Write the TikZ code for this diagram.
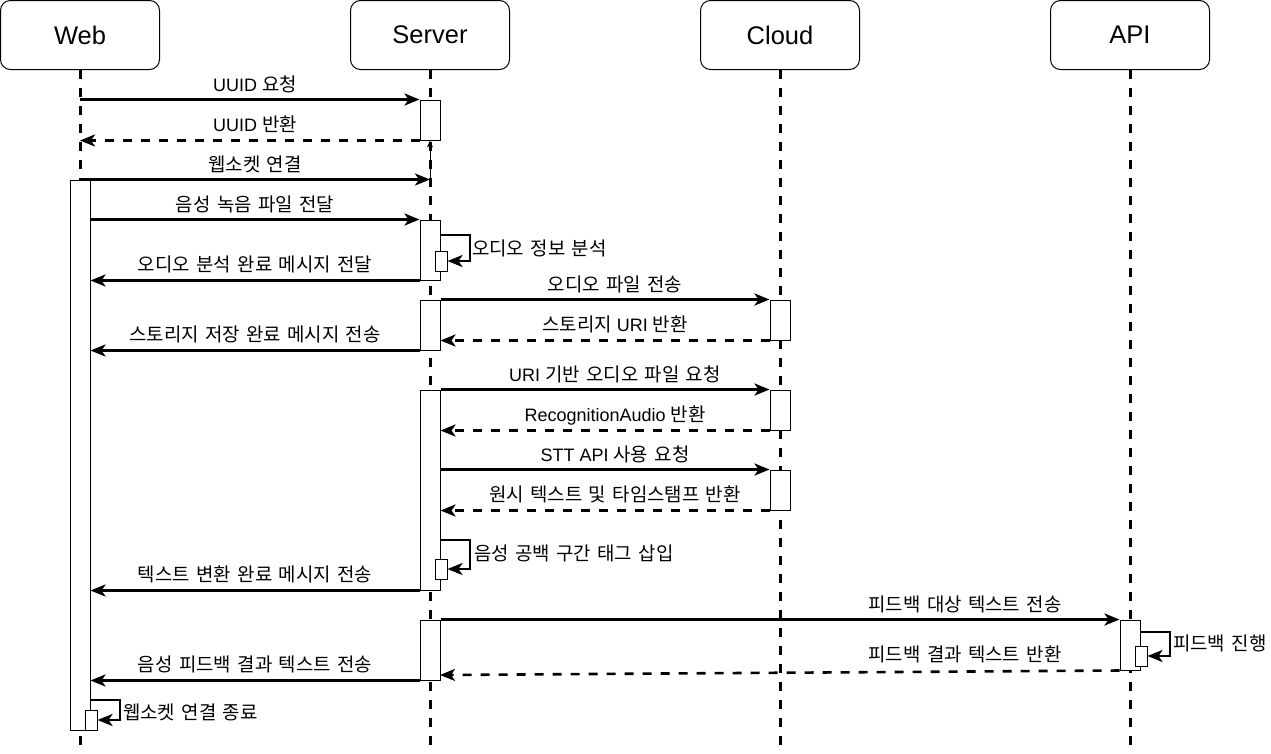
\documentclass[tikz,border=0pt]{standalone}
\usepackage{fontspec}
\setmainfont{Liberation Sans}
\newfontfamily\kr[Scale=1.05,WordSpace=1.5]{Noto Sans CJK KR}
\usetikzlibrary{arrows.meta}
\begin{document}
\begin{tikzpicture}[x=1pt,y=-1pt,
  actor/.style={draw,line width=1pt,rounded corners=10pt,minimum width=159pt,minimum height=69pt,inner sep=0pt,font=\fontsize{25.5pt}{30pt}\selectfont},
  life/.style={line width=3pt,dash pattern=on 8.5pt off 9.5pt},
  act/.style={draw,fill=white,line width=1pt,minimum width=20pt,inner sep=0pt},
  nact/.style={draw,fill=white,line width=1pt,minimum width=12pt,minimum height=20pt,inner sep=0pt},
  msg/.style={line width=2.6pt,-{Stealth[length=15pt,width=12pt,inset=4pt]}},
  ret/.style={msg,dash pattern=on 9pt off 9pt},
  lbl/.style={anchor=base,inner sep=0pt,font=\fontsize{18pt}{22pt}\selectfont},
  llbl/.style={anchor=base west,inner sep=0pt,font=\fontsize{18pt}{22pt}\selectfont}]
\useasboundingbox (0,0) rectangle (1271,753);
\fill[white] (0,0) rectangle (1271,753);
% actors
\node[actor] (web) at (80,35) {Web};
\node[actor] (srv) at (430,35) {Server};
\node[actor] (cld) at (780,35) {Cloud};
\node[actor] (api) at (1130,35) {API};
\coordinate (webE) at (80,753);
\coordinate (srvE) at (430,753);
\coordinate (cldE) at (780,753);
\coordinate (apiE) at (1130,753);
\draw[life] (web.south) -- (webE);
\draw[life] (srv.south) -- (srvE);
\draw[life] (cld.south) -- (cldE);
\draw[life] (api.south) -- (apiE);
% activations
\node[act,minimum height=40pt] (sA) at (430,120) {};
\node[act,minimum height=550pt] (wA) at (80,455) {};
\node[act,minimum height=60pt] (sB) at (430,250) {};
\node[nact] (sBn) at (441,261) {};
\node[act,minimum height=50pt] (sC) at (430,325) {};
\node[act,minimum height=40pt] (cC) at (780,320) {};
\node[act,minimum height=200pt] (sD) at (430,490) {};
\node[act,minimum height=40pt] (cD1) at (780,410) {};
\node[act,minimum height=40pt] (cD2) at (780,490) {};
\node[nact] (sDn) at (441,569) {};
\node[act,minimum height=60pt] (sE) at (430,650) {};
\node[act,minimum height=50pt] (aE) at (1130,645) {};
\node[nact] (aEn) at (1141,656) {};
\node[nact] (wn) at (91,720) {};
% loop start coordinates
\coordinate (l1) at (440,235);
\coordinate (l2) at (440,540);
\coordinate (l3) at (1140,632);
\coordinate (l4) at (90,700);
\coordinate (r15) at (440,675);
% messages
\draw[msg] (web |- sA.north west) -- (sA.north west);
\node[lbl] (t1) at (255,91) {UUID {\kr 요청}};
\draw[ret] (sA.south west) -- (web |- sA.south west);
\node[lbl] (t2) at (255,131) {UUID {\kr 반환}};
\draw[line width=1pt,-{Stealth[length=7pt,width=6pt]}] (srv |- wA.north) -- (sA.south);
\draw[msg] (wA.north) -- (srv |- wA.north);
\node[lbl] (t3) at (255,171) {\kr 웹소켓 연결};
\draw[msg] (wA.east |- sB.north) -- (sB.north west);
\node[lbl] (t4) at (255,211) {\kr 음성 녹음 파일 전달};
\draw[msg] (l1) -- ++(30,0) |- (sBn.east);
\node[llbl] (t5) at (472,255) {\kr 오디오 정보 분석};
\draw[msg] (sB.south west) -- (wA.east |- sB.south west);
\node[lbl] (t6) at (255,271) {\kr 오디오 분석 완료 메시지 전달};
\draw[msg] (sC.north east) -- (cC.north west);
\node[lbl] (t7) at (615,291) {\kr 오디오 파일 전송};
\draw[ret] (cC.south west) -- (sC.east |- cC.south west);
\node[lbl] (t8) at (615,331) {{\kr 스토리지} URI {\kr 반환}};
\draw[msg] (sC.south west) -- (wA.east |- sC.south west);
\node[lbl] (t9) at (255,341) {\kr 스토리지 저장 완료 메시지 전송};
\draw[msg] (sD.north east) -- (cD1.north west);
\node[lbl] (t10) at (615,381) {URI {\kr 기반 오디오 파일 요청}};
\draw[ret] (cD1.south west) -- (sD.east |- cD1.south west);
\node[lbl] (t11) at (615,421) {RecognitionAudio {\kr 반환}};
\draw[msg] (sD.east |- cD2.north west) -- (cD2.north west);
\node[lbl] (t12) at (615,461) {STT API {\kr 사용 요청}};
\draw[ret] (cD2.south west) -- (sD.east |- cD2.south west);
\node[lbl] (t13) at (615,501) {\kr 원시 텍스트 및 타임스탬프 반환};
\draw[msg] (l2) -- ++(30,0) |- (sDn.east);
\node[llbl] (t14) at (474,560) {\kr 음성 공백 구간 태그 삽입};
\draw[msg] (sD.south west) -- (wA.east |- sD.south west);
\node[lbl] (t15) at (255,581) {\kr 텍스트 변환 완료 메시지 전송};
\draw[msg] (sE.north east) -- (aE.north west);
\node[lbl] (t16) at (965,611) {\kr 피드백 대상 텍스트 전송};
\draw[msg] (l3) -- ++(30,0) |- (aEn.east);
\node[llbl] (t17) at (1173,650) {\kr 피드백 진행};
\draw[ret] (aE.south west) -- (r15);
\node[lbl] (t18) at (965,661) {\kr 피드백 결과 텍스트 반환};
\draw[msg] (sE.south west) -- (wA.east |- sE.south west);
\node[lbl] (t19) at (255,671) {\kr 음성 피드백 결과 텍스트 전송};
\draw[msg] (l4) -- ++(30,0) |- (wn.east);
\node[llbl] (t20) at (123,719) {\kr 웹소켓 연결 종료};
\end{tikzpicture}
\end{document}
